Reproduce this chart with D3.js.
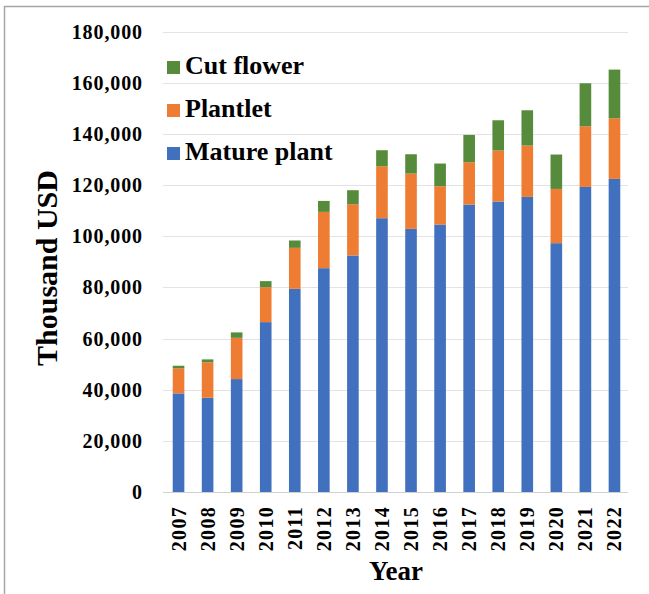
<!DOCTYPE html>
<html>
<head>
<meta charset="utf-8">
<script src="https://cdn.jsdelivr.net/npm/d3@7"></script>
<style>
  html, body { margin: 0; padding: 0; background: #fff; }
  svg { display: block; }
  text { font-family: "Liberation Serif", "Times New Roman", serif; font-weight: bold; fill: #000; }
</style>
</head>
<body>
<svg id="chart" width="649" height="594"></svg>
<script>
const years = ["2007","2008","2009","2010","2011","2012","2013","2014","2015","2016","2017","2018","2019","2020","2021","2022"];
const maturePlant = [38550, 36830, 44140, 66400, 79410, 87490, 92450, 107020, 102850, 104560, 112370, 113550, 115350, 97260, 119250, 122380];
const plantlet    = [9800, 13830, 16130, 13670, 16020, 22000, 20040, 20320, 21630, 14960, 16530, 19920, 20070, 21210, 23710, 23700];
const cutFlower   = [1000, 1170, 2110, 2350, 2880, 4290, 5470, 6250, 7540, 8870, 10670, 11830, 13790, 13440, 16800, 19030];
const seriesNames = ["Mature plant", "Plantlet", "Cut flower"];
const seriesColors = ["#4171be", "#ee7d33", "#568b3c"];
const yTicks = [0, 20000, 40000, 60000, 80000, 100000, 120000, 140000, 160000, 180000];
const yTitle = "Thousand USD";
const xTitle = "Year";

const svg = d3.select("#chart");

// outer frame (partially visible)
svg.append("rect")
  .attr("x", 4.5).attr("y", 6.5)
  .attr("width", 700).attr("height", 700)
  .attr("fill", "none").attr("stroke", "#a6a6a6").attr("stroke-width", 1.5);

const x = d3.scaleBand().domain(years).range([164, 629]).paddingInner(0.6).paddingOuter(0.3);
const y = d3.scaleLinear().domain([0, 180000]).range([492, 31.5]);

const rows = years.map((yr, i) => ({ year: yr, "Mature plant": maturePlant[i], "Plantlet": plantlet[i], "Cut flower": cutFlower[i] }));
const stacked = d3.stack().keys(seriesNames)(rows);

// gridlines
svg.append("g").selectAll("line").data(yTicks).join("line")
  .attr("x1", 163).attr("x2", 628)
  .attr("y1", d => Math.round(y(d)) + 0.5).attr("y2", d => Math.round(y(d)) + 0.5)
  .attr("stroke", d => d === 0 ? "#d0d0d0" : "#e3e3e3").attr("stroke-width", 1);

// y axis labels
const yAxis = d3.axisLeft(y).tickValues(yTicks).tickSize(0).tickPadding(0)
  .tickFormat(d3.format(","));
const yg = svg.append("g").attr("transform", "translate(143,0)").call(yAxis);
yg.select(".domain").remove();
yg.selectAll("text")
  .attr("font-size", 20).attr("letter-spacing", "0.9px")
  .attr("font-family", "Liberation Serif, Times New Roman, serif")
  .attr("font-weight", "bold").attr("fill", "#000")
  .attr("dy", "0.33em");

// bars
svg.append("g").selectAll("g").data(stacked).join("g")
  .attr("fill", (d, i) => seriesColors[i])
  .selectAll("rect").data(d => d).join("rect")
  .attr("x", d => x(d.data.year))
  .attr("width", x.bandwidth())
  .attr("y", d => y(d[1]))
  .attr("height", d => y(d[0]) - y(d[1]));

// x axis labels (rotated)
const xAxis = d3.axisBottom(x).tickSize(0).tickPadding(0);
const xg = svg.append("g").attr("transform", "translate(0,506)").call(xAxis);
xg.select(".domain").remove();
xg.selectAll("text")
  .attr("font-size", 20).attr("letter-spacing", "1.3px")
  .attr("font-family", "Liberation Serif, Times New Roman, serif")
  .attr("font-weight", "bold").attr("fill", "#000")
  .attr("text-anchor", "end")
  .attr("transform", "rotate(-90)")
  .attr("x", 0).attr("y", 0).attr("dy", "0.35em");

// axis titles
svg.append("text")
  .attr("transform", "translate(57,268) rotate(-90)")
  .attr("text-anchor", "middle")
  .attr("font-size", 30)
  .text(yTitle);

svg.append("text")
  .attr("x", 396).attr("y", 580)
  .attr("text-anchor", "middle")
  .attr("font-size", 27)
  .text(xTitle);

// legend (top to bottom: Cut flower, Plantlet, Mature plant)
const legendOrder = [2, 1, 0];
const legendBaselines = [74, 117, 160];
const lg = svg.append("g").selectAll("g").data(legendOrder).join("g")
  .attr("transform", (d, i) => `translate(167,${legendBaselines[i]})`);
lg.append("rect").attr("x", 0).attr("y", -13).attr("width", 13).attr("height", 13)
  .attr("fill", d => seriesColors[d]);
lg.append("text").attr("x", 18).attr("y", 0).attr("font-size", 26)
  .text(d => seriesNames[d]);
</script>
</body>
</html>
